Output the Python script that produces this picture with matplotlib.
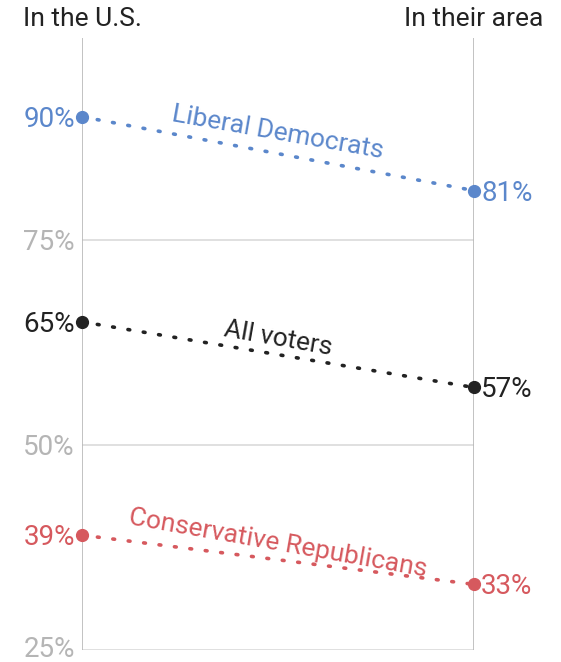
import matplotlib
matplotlib.use("Agg")
import matplotlib.pyplot as plt

plt.rcParams['font.family'] = ['Roboto', 'DejaVu Sans']

# data
GROUPS = ['Liberal Democrats', 'All voters', 'Conservative Republicans']
US = [90, 65, 39]
AREA = [81, 57, 33]
COLORS = ['#5b87cb', '#222222', '#d6595e']
COLUMNS = ['In the U.S.', 'In their area']
YTICKS = [25, 50, 75]

fig = plt.figure(figsize=(5.61, 6.62), dpi=100)
ax = fig.add_axes([82 / 561, 12 / 662, 392 / 561, 612 / 662])
ax.set_xlim(0, 1)
ax.set_ylim(25, 99.6)
ax.axis('off')

# grid and column lines
for t in YTICKS:
    ax.axhline(t, color='#dddddd', lw=1.3, zorder=1)
    ty = t - 0.3 if t > 25 else t + 0.1
    ax.text(-0.018, ty, f'{t}%', ha='right', va='center', fontsize=20,
            color='#b5b5b5')
ax.axvline(0, color='#b8b8b8', lw=1.2, zorder=1)
ax.axvline(1, color='#b8b8b8', lw=1.2, zorder=1)

ax.text(0, 1.012, COLUMNS[0], transform=ax.transAxes, ha='center', va='bottom',
        fontsize=19, color='#222222')
ax.text(1, 1.012, COLUMNS[1], transform=ax.transAxes, ha='center', va='bottom',
        fontsize=19, color='#222222')

# slope lines
offsets = [2.6, 2.0, 2.0]
for name, a, b, c, off in zip(GROUPS, US, AREA, COLORS, offsets):
    ax.plot([0, 1], [a, b], color=c, lw=2.6, ls=(0, (0.5, 3.8)),
            dash_capstyle='round', zorder=2)
    ax.plot([0, 1], [a, b], 'o', color=c, ms=8.5, zorder=3, clip_on=False)
    ax.text(-0.018, a - 0.3, f'{a}%', ha='right', va='center', fontsize=20,
            color=c)
    ax.text(1.018, b - 0.3, f'{b}%', ha='left', va='center', fontsize=20,
            color=c)
    xm = 0.5
    ym = a + (b - a) * xm + off
    ax.text(xm, ym, name, ha='center', va='center', fontsize=19, color=c,
            rotation=-10, rotation_mode='anchor')

fig.savefig('out.png', dpi=100)
